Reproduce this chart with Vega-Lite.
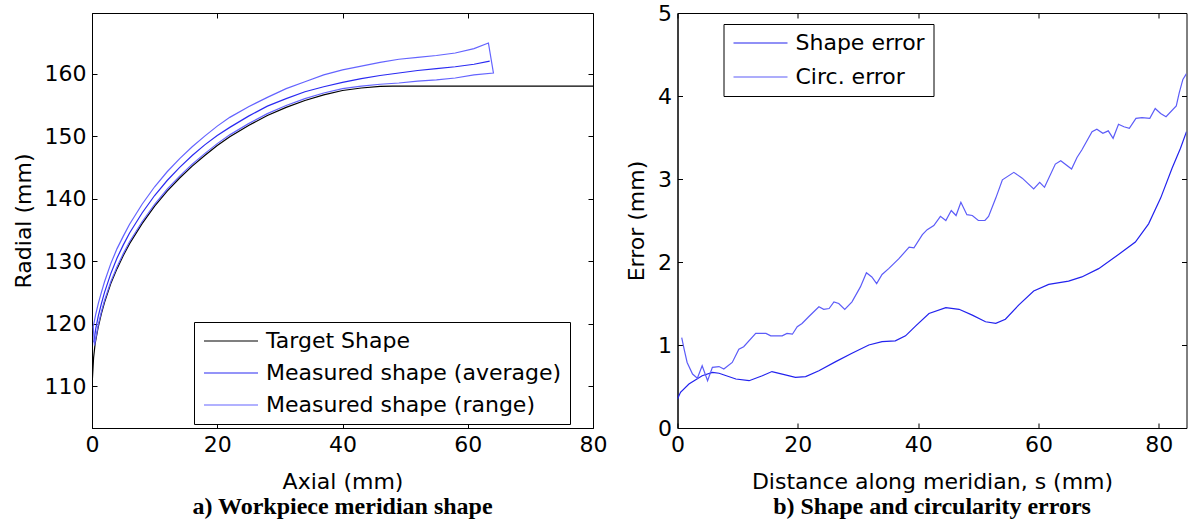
{
  "$schema": "https://vega.github.io/schema/vega-lite/v6.json",
  "padding": {"left": 11, "top": 1, "right": 0, "bottom": 0},
  "background": "white",
  "spacing": 84.5,
  "bounds": "flush",
  "resolve": {"scale": {"color": "independent"}, "legend": {"color": "independent"}},
  "config": {
    "view": {"stroke": "black", "strokeWidth": 1},
    "axis": {
      "grid": false, "domain": true, "domainColor": "black", "domainWidth": 1,
      "tickColor": "black", "tickSize": -5, "tickWidth": 1,
      "labelFont": "DejaVu Sans", "labelFontSize": 22, "labelColor": "black", "labelPadding": 11,
      "labelFlush": false, "labelOverlap": false,
      "titleFont": "DejaVu Sans", "titleFontSize": 22, "titleFontWeight": "normal", "titleColor": "black"
    },
    "axisX": {"titlePadding": 16},
    "axisY": {"titlePadding": 9},
    "legend": {
      "labelFont": "DejaVu Sans", "labelFontSize": 22, "labelColor": "black",
      "strokeColor": "black", "fillColor": "white", "symbolType": "M-1,0H5",
      "symbolSize": 324, "symbolStrokeWidth": 1.2, "padding": 8, "rowPadding": 10, "labelOffset": 42, "labelLimit": 500
    },
    "title": {"font": "Liberation Serif", "fontSize": 24, "fontWeight": "bold", "color": "black"}
  },
  "datasets": {
    "left": [
      {"series": "Target Shape", "i": 0, "x": 0, "y": 110},
      {"series": "Target Shape", "i": 1, "x": 0.25, "y": 114.5},
      {"series": "Target Shape", "i": 2, "x": 0.5, "y": 116.8},
      {"series": "Target Shape", "i": 3, "x": 1, "y": 119.5},
      {"series": "Target Shape", "i": 4, "x": 1.5, "y": 121.6},
      {"series": "Target Shape", "i": 5, "x": 2, "y": 123.4},
      {"series": "Target Shape", "i": 6, "x": 3, "y": 126.4},
      {"series": "Target Shape", "i": 7, "x": 4, "y": 128.8},
      {"series": "Target Shape", "i": 8, "x": 5, "y": 130.9},
      {"series": "Target Shape", "i": 9, "x": 6, "y": 132.8},
      {"series": "Target Shape", "i": 10, "x": 8, "y": 136.0},
      {"series": "Target Shape", "i": 11, "x": 10, "y": 138.8},
      {"series": "Target Shape", "i": 12, "x": 12, "y": 141.2},
      {"series": "Target Shape", "i": 13, "x": 14, "y": 143.3},
      {"series": "Target Shape", "i": 14, "x": 16, "y": 145.2},
      {"series": "Target Shape", "i": 15, "x": 18, "y": 146.9},
      {"series": "Target Shape", "i": 16, "x": 20, "y": 148.5},
      {"series": "Target Shape", "i": 17, "x": 22, "y": 149.9},
      {"series": "Target Shape", "i": 18, "x": 25, "y": 151.7},
      {"series": "Target Shape", "i": 19, "x": 28, "y": 153.3},
      {"series": "Target Shape", "i": 20, "x": 31, "y": 154.6},
      {"series": "Target Shape", "i": 21, "x": 34, "y": 155.7},
      {"series": "Target Shape", "i": 22, "x": 37, "y": 156.6},
      {"series": "Target Shape", "i": 23, "x": 40, "y": 157.3},
      {"series": "Target Shape", "i": 24, "x": 43, "y": 157.7},
      {"series": "Target Shape", "i": 25, "x": 46, "y": 157.95},
      {"series": "Target Shape", "i": 26, "x": 48, "y": 158},
      {"series": "Target Shape", "i": 27, "x": 80, "y": 158},
      {"series": "Measured shape (average)", "i": 0, "x": 0.3, "y": 117.0},
      {"series": "Measured shape (average)", "i": 1, "x": 0.6, "y": 119.2},
      {"series": "Measured shape (average)", "i": 2, "x": 1, "y": 121.2},
      {"series": "Measured shape (average)", "i": 3, "x": 1.5, "y": 123.2},
      {"series": "Measured shape (average)", "i": 4, "x": 2, "y": 125.0},
      {"series": "Measured shape (average)", "i": 5, "x": 3, "y": 128.0},
      {"series": "Measured shape (average)", "i": 6, "x": 4, "y": 130.5},
      {"series": "Measured shape (average)", "i": 7, "x": 5, "y": 132.6},
      {"series": "Measured shape (average)", "i": 8, "x": 6, "y": 134.5},
      {"series": "Measured shape (average)", "i": 9, "x": 8, "y": 137.7},
      {"series": "Measured shape (average)", "i": 10, "x": 10, "y": 140.5},
      {"series": "Measured shape (average)", "i": 11, "x": 12, "y": 142.9},
      {"series": "Measured shape (average)", "i": 12, "x": 14, "y": 145.0},
      {"series": "Measured shape (average)", "i": 13, "x": 16, "y": 146.9},
      {"series": "Measured shape (average)", "i": 14, "x": 18, "y": 148.6},
      {"series": "Measured shape (average)", "i": 15, "x": 20, "y": 150.1},
      {"series": "Measured shape (average)", "i": 16, "x": 22, "y": 151.4},
      {"series": "Measured shape (average)", "i": 17, "x": 25, "y": 153.2},
      {"series": "Measured shape (average)", "i": 18, "x": 28, "y": 154.8},
      {"series": "Measured shape (average)", "i": 19, "x": 31, "y": 156.0},
      {"series": "Measured shape (average)", "i": 20, "x": 34, "y": 157.1},
      {"series": "Measured shape (average)", "i": 21, "x": 37, "y": 157.9},
      {"series": "Measured shape (average)", "i": 22, "x": 40, "y": 158.6},
      {"series": "Measured shape (average)", "i": 23, "x": 43, "y": 159.2},
      {"series": "Measured shape (average)", "i": 24, "x": 46, "y": 159.7},
      {"series": "Measured shape (average)", "i": 25, "x": 49, "y": 160.1},
      {"series": "Measured shape (average)", "i": 26, "x": 52, "y": 160.5},
      {"series": "Measured shape (average)", "i": 27, "x": 55, "y": 160.8},
      {"series": "Measured shape (average)", "i": 28, "x": 58, "y": 161.1},
      {"series": "Measured shape (average)", "i": 29, "x": 61, "y": 161.5},
      {"series": "Measured shape (average)", "i": 30, "x": 63.5, "y": 162.0},
      {"series": "Measured shape (range)", "i": 0, "x": 0.2, "y": 119.5},
      {"series": "Measured shape (range)", "i": 1, "x": 0.6, "y": 121.5},
      {"series": "Measured shape (range)", "i": 2, "x": 1, "y": 123.2},
      {"series": "Measured shape (range)", "i": 3, "x": 1.5, "y": 125.0},
      {"series": "Measured shape (range)", "i": 4, "x": 2, "y": 126.7},
      {"series": "Measured shape (range)", "i": 5, "x": 3, "y": 129.6},
      {"series": "Measured shape (range)", "i": 6, "x": 4, "y": 132.0},
      {"series": "Measured shape (range)", "i": 7, "x": 5, "y": 134.0},
      {"series": "Measured shape (range)", "i": 8, "x": 6, "y": 135.9},
      {"series": "Measured shape (range)", "i": 9, "x": 8, "y": 139.1},
      {"series": "Measured shape (range)", "i": 10, "x": 10, "y": 141.9},
      {"series": "Measured shape (range)", "i": 11, "x": 12, "y": 144.3},
      {"series": "Measured shape (range)", "i": 12, "x": 14, "y": 146.4},
      {"series": "Measured shape (range)", "i": 13, "x": 16, "y": 148.3},
      {"series": "Measured shape (range)", "i": 14, "x": 18, "y": 150.0},
      {"series": "Measured shape (range)", "i": 15, "x": 20, "y": 151.6},
      {"series": "Measured shape (range)", "i": 16, "x": 22, "y": 153.0},
      {"series": "Measured shape (range)", "i": 17, "x": 25, "y": 154.7},
      {"series": "Measured shape (range)", "i": 18, "x": 28, "y": 156.2},
      {"series": "Measured shape (range)", "i": 19, "x": 31, "y": 157.6},
      {"series": "Measured shape (range)", "i": 20, "x": 34, "y": 158.7},
      {"series": "Measured shape (range)", "i": 21, "x": 37, "y": 159.8},
      {"series": "Measured shape (range)", "i": 22, "x": 40, "y": 160.6},
      {"series": "Measured shape (range)", "i": 23, "x": 43, "y": 161.2},
      {"series": "Measured shape (range)", "i": 24, "x": 46, "y": 161.8},
      {"series": "Measured shape (range)", "i": 25, "x": 49, "y": 162.3},
      {"series": "Measured shape (range)", "i": 26, "x": 52, "y": 162.6},
      {"series": "Measured shape (range)", "i": 27, "x": 55, "y": 162.9},
      {"series": "Measured shape (range)", "i": 28, "x": 58, "y": 163.3},
      {"series": "Measured shape (range)", "i": 29, "x": 61, "y": 164.0},
      {"series": "Measured shape (range)", "i": 30, "x": 63.3, "y": 164.9},
      {"series": "Measured shape (range)", "i": 31, "x": 64.1, "y": 160.1},
      {"series": "Measured shape (range)", "i": 32, "x": 61, "y": 159.8},
      {"series": "Measured shape (range)", "i": 33, "x": 58, "y": 159.3},
      {"series": "Measured shape (range)", "i": 34, "x": 55, "y": 159.0},
      {"series": "Measured shape (range)", "i": 35, "x": 52, "y": 158.8},
      {"series": "Measured shape (range)", "i": 36, "x": 49, "y": 158.5},
      {"series": "Measured shape (range)", "i": 37, "x": 46, "y": 158.3},
      {"series": "Measured shape (range)", "i": 38, "x": 43, "y": 158.0},
      {"series": "Measured shape (range)", "i": 39, "x": 40, "y": 157.6},
      {"series": "Measured shape (range)", "i": 40, "x": 37, "y": 156.9},
      {"series": "Measured shape (range)", "i": 41, "x": 34, "y": 156.0},
      {"series": "Measured shape (range)", "i": 42, "x": 31, "y": 154.9},
      {"series": "Measured shape (range)", "i": 43, "x": 28, "y": 153.6},
      {"series": "Measured shape (range)", "i": 44, "x": 25, "y": 152.0},
      {"series": "Measured shape (range)", "i": 45, "x": 22, "y": 150.2},
      {"series": "Measured shape (range)", "i": 46, "x": 20, "y": 148.8},
      {"series": "Measured shape (range)", "i": 47, "x": 18, "y": 147.2},
      {"series": "Measured shape (range)", "i": 48, "x": 16, "y": 145.5},
      {"series": "Measured shape (range)", "i": 49, "x": 14, "y": 143.6},
      {"series": "Measured shape (range)", "i": 50, "x": 12, "y": 141.5},
      {"series": "Measured shape (range)", "i": 51, "x": 10, "y": 139.1},
      {"series": "Measured shape (range)", "i": 52, "x": 8, "y": 136.3},
      {"series": "Measured shape (range)", "i": 53, "x": 6, "y": 133.1},
      {"series": "Measured shape (range)", "i": 54, "x": 5, "y": 131.2},
      {"series": "Measured shape (range)", "i": 55, "x": 4, "y": 129.1},
      {"series": "Measured shape (range)", "i": 56, "x": 3, "y": 126.7},
      {"series": "Measured shape (range)", "i": 57, "x": 2, "y": 123.7},
      {"series": "Measured shape (range)", "i": 58, "x": 1.5, "y": 121.9},
      {"series": "Measured shape (range)", "i": 59, "x": 1, "y": 119.8},
      {"series": "Measured shape (range)", "i": 60, "x": 0.6, "y": 117.6},
      {"series": "Measured shape (range)", "i": 61, "x": 0.4, "y": 116.5},
      {"series": "Measured shape (range)", "i": 62, "x": 0.2, "y": 119.5}
    ],
    "right": [
      {"series": "Shape error", "s": 0, "e": 0.35},
      {"series": "Shape error", "s": 0.5, "e": 0.43},
      {"series": "Shape error", "s": 1.9, "e": 0.53},
      {"series": "Shape error", "s": 4.1, "e": 0.63},
      {"series": "Shape error", "s": 5.8, "e": 0.67},
      {"series": "Shape error", "s": 6.9, "e": 0.66},
      {"series": "Shape error", "s": 9.7, "e": 0.59},
      {"series": "Shape error", "s": 11.9, "e": 0.57},
      {"series": "Shape error", "s": 14.1, "e": 0.63},
      {"series": "Shape error", "s": 15.7, "e": 0.68},
      {"series": "Shape error", "s": 17.4, "e": 0.65},
      {"series": "Shape error", "s": 19.6, "e": 0.61},
      {"series": "Shape error", "s": 21.3, "e": 0.62},
      {"series": "Shape error", "s": 23.5, "e": 0.69},
      {"series": "Shape error", "s": 26.3, "e": 0.80},
      {"series": "Shape error", "s": 29.0, "e": 0.90},
      {"series": "Shape error", "s": 31.8, "e": 1.00},
      {"series": "Shape error", "s": 34.0, "e": 1.04},
      {"series": "Shape error", "s": 36.2, "e": 1.05},
      {"series": "Shape error", "s": 37.9, "e": 1.11},
      {"series": "Shape error", "s": 39.6, "e": 1.23},
      {"series": "Shape error", "s": 41.8, "e": 1.38},
      {"series": "Shape error", "s": 44.6, "e": 1.45},
      {"series": "Shape error", "s": 46.8, "e": 1.43},
      {"series": "Shape error", "s": 49.0, "e": 1.36},
      {"series": "Shape error", "s": 51.2, "e": 1.28},
      {"series": "Shape error", "s": 52.9, "e": 1.26},
      {"series": "Shape error", "s": 54.5, "e": 1.31},
      {"series": "Shape error", "s": 56.7, "e": 1.48},
      {"series": "Shape error", "s": 59.2, "e": 1.65},
      {"series": "Shape error", "s": 61.7, "e": 1.73},
      {"series": "Shape error", "s": 65.0, "e": 1.77},
      {"series": "Shape error", "s": 67.2, "e": 1.82},
      {"series": "Shape error", "s": 70.0, "e": 1.92},
      {"series": "Shape error", "s": 73.3, "e": 2.09},
      {"series": "Shape error", "s": 76.1, "e": 2.24},
      {"series": "Shape error", "s": 78.3, "e": 2.46},
      {"series": "Shape error", "s": 80.3, "e": 2.77},
      {"series": "Shape error", "s": 82.2, "e": 3.13},
      {"series": "Shape error", "s": 83.6, "e": 3.37},
      {"series": "Shape error", "s": 84.6, "e": 3.57},
      {"series": "Circ. error", "s": 0.7, "e": 1.09},
      {"series": "Circ. error", "s": 1.1, "e": 0.95},
      {"series": "Circ. error", "s": 1.6, "e": 0.79},
      {"series": "Circ. error", "s": 2.5, "e": 0.65},
      {"series": "Circ. error", "s": 3.3, "e": 0.60},
      {"series": "Circ. error", "s": 4.1, "e": 0.75},
      {"series": "Circ. error", "s": 5.0, "e": 0.57},
      {"series": "Circ. error", "s": 5.8, "e": 0.73},
      {"series": "Circ. error", "s": 6.9, "e": 0.74},
      {"series": "Circ. error", "s": 7.7, "e": 0.71},
      {"series": "Circ. error", "s": 9.1, "e": 0.79},
      {"series": "Circ. error", "s": 10.2, "e": 0.95},
      {"series": "Circ. error", "s": 11.0, "e": 0.98},
      {"series": "Circ. error", "s": 13.0, "e": 1.14},
      {"series": "Circ. error", "s": 14.7, "e": 1.14},
      {"series": "Circ. error", "s": 15.5, "e": 1.11},
      {"series": "Circ. error", "s": 17.4, "e": 1.11},
      {"series": "Circ. error", "s": 18.2, "e": 1.14},
      {"series": "Circ. error", "s": 19.1, "e": 1.13},
      {"series": "Circ. error", "s": 19.9, "e": 1.22},
      {"series": "Circ. error", "s": 20.7, "e": 1.26},
      {"series": "Circ. error", "s": 21.8, "e": 1.34},
      {"series": "Circ. error", "s": 23.5, "e": 1.46},
      {"series": "Circ. error", "s": 24.3, "e": 1.43},
      {"series": "Circ. error", "s": 25.2, "e": 1.44},
      {"series": "Circ. error", "s": 26.0, "e": 1.52},
      {"series": "Circ. error", "s": 26.8, "e": 1.50},
      {"series": "Circ. error", "s": 27.8, "e": 1.43},
      {"series": "Circ. error", "s": 29.0, "e": 1.52},
      {"series": "Circ. error", "s": 30.4, "e": 1.70},
      {"series": "Circ. error", "s": 31.4, "e": 1.87},
      {"series": "Circ. error", "s": 32.3, "e": 1.82},
      {"series": "Circ. error", "s": 33.1, "e": 1.74},
      {"series": "Circ. error", "s": 34.0, "e": 1.85},
      {"series": "Circ. error", "s": 35.1, "e": 1.92},
      {"series": "Circ. error", "s": 36.8, "e": 2.04},
      {"series": "Circ. error", "s": 38.5, "e": 2.18},
      {"series": "Circ. error", "s": 39.3, "e": 2.17},
      {"series": "Circ. error", "s": 40.7, "e": 2.33},
      {"series": "Circ. error", "s": 41.5, "e": 2.39},
      {"series": "Circ. error", "s": 42.6, "e": 2.44},
      {"series": "Circ. error", "s": 43.7, "e": 2.55},
      {"series": "Circ. error", "s": 44.6, "e": 2.50},
      {"series": "Circ. error", "s": 45.5, "e": 2.62},
      {"series": "Circ. error", "s": 46.3, "e": 2.56},
      {"series": "Circ. error", "s": 47.1, "e": 2.72},
      {"series": "Circ. error", "s": 48.1, "e": 2.57},
      {"series": "Circ. error", "s": 49.0, "e": 2.56},
      {"series": "Circ. error", "s": 50.0, "e": 2.50},
      {"series": "Circ. error", "s": 51.1, "e": 2.50},
      {"series": "Circ. error", "s": 51.7, "e": 2.55},
      {"series": "Circ. error", "s": 52.9, "e": 2.77},
      {"series": "Circ. error", "s": 54.0, "e": 2.99},
      {"series": "Circ. error", "s": 55.9, "e": 3.08},
      {"series": "Circ. error", "s": 57.3, "e": 3.01},
      {"series": "Circ. error", "s": 59.2, "e": 2.88},
      {"series": "Circ. error", "s": 60.2, "e": 2.96},
      {"series": "Circ. error", "s": 61.0, "e": 2.90},
      {"series": "Circ. error", "s": 62.8, "e": 3.18},
      {"series": "Circ. error", "s": 63.7, "e": 3.22},
      {"series": "Circ. error", "s": 65.5, "e": 3.12},
      {"series": "Circ. error", "s": 66.4, "e": 3.26},
      {"series": "Circ. error", "s": 67.2, "e": 3.35},
      {"series": "Circ. error", "s": 68.9, "e": 3.57},
      {"series": "Circ. error", "s": 69.7, "e": 3.60},
      {"series": "Circ. error", "s": 70.7, "e": 3.55},
      {"series": "Circ. error", "s": 71.6, "e": 3.58},
      {"series": "Circ. error", "s": 72.4, "e": 3.49},
      {"series": "Circ. error", "s": 73.3, "e": 3.66},
      {"series": "Circ. error", "s": 74.2, "e": 3.63},
      {"series": "Circ. error", "s": 75.1, "e": 3.61},
      {"series": "Circ. error", "s": 76.2, "e": 3.73},
      {"series": "Circ. error", "s": 77.2, "e": 3.74},
      {"series": "Circ. error", "s": 78.5, "e": 3.73},
      {"series": "Circ. error", "s": 79.4, "e": 3.85},
      {"series": "Circ. error", "s": 80.3, "e": 3.79},
      {"series": "Circ. error", "s": 81.2, "e": 3.75},
      {"series": "Circ. error", "s": 82.9, "e": 3.88},
      {"series": "Circ. error", "s": 83.4, "e": 4.04},
      {"series": "Circ. error", "s": 84.0, "e": 4.20},
      {"series": "Circ. error", "s": 84.6, "e": 4.27}
    ]
  },
  "hconcat": [
    {
      "width": 501,
      "height": 415,
      "title": {"text": "a) Workpiece meridian shape", "orient": "bottom", "anchor": "middle", "frame": "group", "offset": 3},
      "layer": [
        {
          "data": {"name": "left"},
          "mark": {"type": "line", "strokeWidth": 1.2, "clip": true},
          "encoding": {
            "x": {"field": "x", "type": "quantitative", "scale": {"domain": [0, 80], "nice": false, "zero": false},
                  "axis": {"title": "Axial (mm)", "values": [0, 20, 40, 60, 80]}},
            "y": {"field": "y", "type": "quantitative", "scale": {"domain": [103.3, 169.7], "nice": false, "zero": false},
                  "axis": {"title": "Radial (mm)", "values": [110, 120, 130, 140, 150, 160]}},
            "color": {"field": "series", "type": "nominal",
                      "scale": {"domain": ["Target Shape", "Measured shape (average)", "Measured shape (range)"],
                                "range": ["#000000", "#2a2af2", "#6464ff"]},
                      "legend": {"title": null, "orient": "none", "legendX": 102, "legendY": 309, "padding": 8, "rowPadding": 10}},
            "order": {"field": "i", "type": "quantitative"}
          }
        },
        {
          "data": {"name": "left"},
          "mark": {"type": "point", "opacity": 0},
          "encoding": {
            "x": {"field": "x", "type": "quantitative",
                  "axis": {"orient": "top", "labels": false, "title": null, "domain": false, "values": [0, 20, 40, 60, 80]}},
            "y": {"field": "y", "type": "quantitative",
                  "axis": {"orient": "right", "labels": false, "title": null, "domain": false, "values": [110, 120, 130, 140, 150, 160]}}
          }
        }
      ],
      "resolve": {"axis": {"x": "independent", "y": "independent"}}
    },
    {
      "width": 509,
      "height": 415,
      "title": {"text": "b) Shape and circularity errors", "orient": "bottom", "anchor": "middle", "frame": "group", "offset": 3},
      "layer": [
        {
          "data": {"name": "right"},
          "mark": {"type": "line", "strokeWidth": 1.2, "clip": true},
          "encoding": {
            "x": {"field": "s", "type": "quantitative", "scale": {"domain": [0, 84.6], "nice": false, "zero": false},
                  "axis": {"title": "Distance along meridian, s (mm)", "values": [0, 20, 40, 60, 80]}},
            "y": {"field": "e", "type": "quantitative", "scale": {"domain": [0, 5], "nice": false},
                  "axis": {"title": "Error (mm)", "values": [0, 1, 2, 3, 4, 5]}},
            "color": {"field": "series", "type": "nominal",
                      "scale": {"domain": ["Shape error", "Circ. error"], "range": ["#2222ee", "#5c5cf8"]},
                      "legend": {"title": null, "orient": "none", "legendX": 46, "legendY": 11, "padding": 8, "rowPadding": 12}}
          }
        },
        {
          "data": {"name": "right"},
          "mark": {"type": "point", "opacity": 0},
          "encoding": {
            "x": {"field": "s", "type": "quantitative",
                  "axis": {"orient": "top", "labels": false, "title": null, "domain": false, "values": [0, 20, 40, 60, 80]}},
            "y": {"field": "e", "type": "quantitative",
                  "axis": {"orient": "right", "labels": false, "title": null, "domain": false, "values": [0, 1, 2, 3, 4, 5]}}
          }
        }
      ],
      "resolve": {"axis": {"x": "independent", "y": "independent"}}
    }
  ]
}
